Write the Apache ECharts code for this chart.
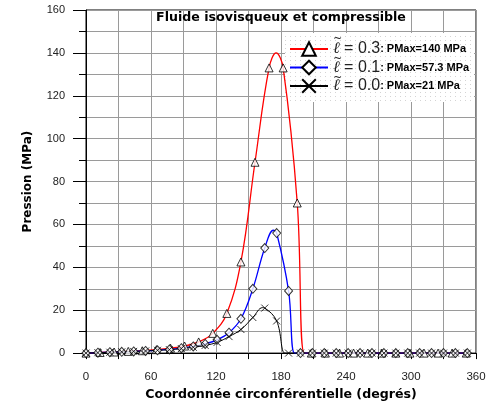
<!DOCTYPE html>
<html>
<head>
<meta charset="utf-8">
<script src="https://cdn.jsdelivr.net/npm/echarts@6/dist/echarts.min.js"></script>
<style>html,body{margin:0;padding:0;background:#fff;overflow:hidden;}#c{width:491px;height:406px;}</style>
</head>
<body>
<div id="c"></div>
<script>
// ---- data ----
const seriesNames = ['l03', 'l01', 'l00'];
const lValues = ['0.3', '0.1', '0.0'];
const pMaxLabels = ['140', '57.3', '21'];

// l = 0.3 (red), markers every 13 degrees
const redDeg = [0,13,26,39,52,65,78,91,104,117,130,143,156,169,182,195,208,221,234,247,260,273,286,299,312,325,338,351];
const redVal = [0,0.3,0.5,0.8,1.1,1.6,2.3,3.3,5.2,9.2,18.5,42.5,89,133,133,70,0,0,0,0,0,0,0,0,0,0,0,0];
const redExtra = [[175.5,140],[201.5,0]];

// l = 0.1 (blue), markers every 11 degrees
const blueDeg = [0,11,22,33,44,55,66,77,88,99,110,121,132,143,154,165,176,187,198,209,220,231,242,253,264,275,286,297,308,319,330,341,352];
const blueVal = [0,0.2,0.4,0.6,0.8,1.0,1.3,1.7,2.3,3.1,4.3,6.2,9.5,16,30,49,56,29,0,0,0,0,0,0,0,0,0,0,0,0,0,0,0];
const blueExtra = [[173,57.3],[192.5,0]];

// l = 0.0 (black), markers every 11 degrees
const blackDeg = [0,11,22,33,44,55,66,77,88,99,110,121,132,143,154,165,176,187,198,209,220,231,242,253,264,275,286,297,308,319,330,341,352];
const blackVal = [0,0.2,0.4,0.6,0.8,1.0,1.3,1.6,2.1,2.7,3.6,5.0,7.7,11,16.6,21,15,0,0,0,0,0,0,0,0,0,0,0,0,0,0,0,0];
const blackExtra = [[163,21.2],[183.5,0]];

const xTicks = {min:0, max:360, interval:60};
const yTicks = {min:0, max:160, interval:20};

// ---- helpers ----
function pairs(d, v){ return d.map((x,i)=>[x, v[i]]); }
function curve(d, v, extra){ return pairs(d, v).concat(extra).sort((a,b)=>a[0]-b[0]); }

const dot = document.createElement('canvas');
dot.width = 5; dot.height = 4;
(function(){ const g = dot.getContext('2d'); g.fillStyle = '#fff'; g.fillRect(0,0,5,4); g.fillStyle = '#d4d4d4'; g.fillRect(0,0,1,1); })();

const xSym = 'path://M0,0L10,10M10,0L0,10';
const chart = echarts.init(document.getElementById('c'), null, {renderer:'canvas', width:491, height:406});

const colors = ['#ff0000', '#0000ff', '#000000'];
const symbols = ['triangle', 'diamond', xSym];
const fills = ['#ffffff', '#ffffff', 'rgba(0,0,0,0)'];
const curves = [curve(redDeg, redVal, redExtra), curve(blueDeg, blueVal, blueExtra), curve(blackDeg, blackVal, blackExtra)];
const marks = [pairs(redDeg, redVal), pairs(blueDeg, blueVal), pairs(blackDeg, blackVal)];
const markSizes = [[8,8],[8,9],[7,7]];
const lineWidths = [1.3, 1.3, 1];

const series = [];
for (let i=0;i<3;i++){
  series.push({
    name: seriesNames[i], type:'line', data: curves[i], smooth: 0.4,
    showSymbol:false, symbol: symbols[i], z: 2,
    lineStyle:{color: colors[i], width: lineWidths[i]},
    itemStyle:{color: fills[i], borderColor:'#000', borderWidth:1},
    emphasis:{disabled:true}, silent:true, animation:false
  });
}
for (let i=0;i<3;i++){
  series.push({
    name: seriesNames[i]+'_m', type:'scatter', data: marks[i], symbol: symbols[i], symbolSize: markSizes[i], z: 3,
    itemStyle:{color: fills[i], borderColor:'#000', borderWidth:1},
    emphasis:{disabled:true}, silent:true, animation:false
  });
}

const legendLeft = 289, legendTop = 41, itemW = 38, itemH = 17, itemGap = 2.5;
const tildes = seriesNames.map((n,i)=>({type:'text', z:6, silent:true,
  x: legendLeft + itemW + 5 + 5.5, y: legendTop + itemH/2 + i*(itemH+itemGap) - 10,
  style:{text:'~', fontFamily:'DejaVu Sans', fontSize:11, fill:'#222', align:'center', verticalAlign:'middle'}}));

chart.setOption({
  animation:false,
  grid:{left:86, top:10, width:390, height:346, show:true, borderColor:'#000', borderWidth:1, backgroundColor:'transparent'},
  xAxis:{type:'value', min:xTicks.min, max:xTicks.max, interval:xTicks.interval,
    name:'Coordonnée circonférentielle (degrés)', nameLocation:'middle', nameGap:30,
    nameTextStyle:{fontFamily:'DejaVu Sans', fontWeight:'bold', fontSize:12.6, color:'#000'},
    axisLine:{lineStyle:{color:'#000', width:1}},
    axisTick:{show:true, length:6, lineStyle:{color:'#000'}},
    minorTick:{show:true, splitNumber:2, length:6, lineStyle:{color:'#000'}},
    splitLine:{show:true, lineStyle:{color:'#9a9a9a', width:1}},
    minorSplitLine:{show:true, lineStyle:{color:'#9a9a9a', width:1}},
    axisLabel:{margin:18, fontFamily:'Liberation Sans', fontSize:11.5, color:'#222'}},
  yAxis:{type:'value', min:yTicks.min, max:yTicks.max, interval:yTicks.interval,
    name:'Pression (MPa)', nameLocation:'middle', nameGap:52,
    nameTextStyle:{fontFamily:'DejaVu Sans', fontWeight:'bold', fontSize:12, color:'#000'},
    axisLine:{show:true, lineStyle:{color:'#000', width:1}},
    axisTick:{show:true, length:13, lineStyle:{color:'#000'}},
    minorTick:{show:true, splitNumber:2, length:7, lineStyle:{color:'#000'}},
    splitLine:{show:true, lineStyle:{color:'#9a9a9a', width:1}},
    minorSplitLine:{show:true, lineStyle:{color:'#9a9a9a', width:1}},
    axisLabel:{margin:21, fontFamily:'Liberation Sans', fontSize:11, color:'#222'}},
  legend:{
    data: seriesNames, orient:'vertical', left:legendLeft, top:legendTop, itemWidth:itemW, itemHeight:itemH, itemGap:itemGap,
    selectedMode:false, padding:0, z:5,
    formatter: function(name){ const i = seriesNames.indexOf(name);
      return '{l|\u2113}{eq| = ' + lValues[i] + '}{b|: PMax=' + pMaxLabels[i] + ' MPa}'; },
    textStyle:{rich:{
      l:{fontFamily:'DejaVu Serif', fontStyle:'italic', fontSize:16, color:'#222', lineHeight:17},
      eq:{fontFamily:'Liberation Sans', fontSize:16, color:'#222', lineHeight:17},
      b:{fontFamily:'Liberation Sans', fontWeight:'bold', fontSize:11, color:'#000', lineHeight:17}
    }}
  },
  graphic:[
    {type:'rect', z:1, silent:true, shape:{x:285, y:33, width:189, height:69}, style:{fill:{image:dot, repeat:'repeat'}, stroke:null}},
    {type:'text', z:5, silent:true, x:281, y:18, style:{text:'Fluide isovisqueux et compressible', fontFamily:'DejaVu Sans', fontWeight:'bold', fontSize:12.6, fill:'#000', align:'center', verticalAlign:'middle'}}
  ].concat(tildes),
  series: series
});
</script>
</body>
</html>
